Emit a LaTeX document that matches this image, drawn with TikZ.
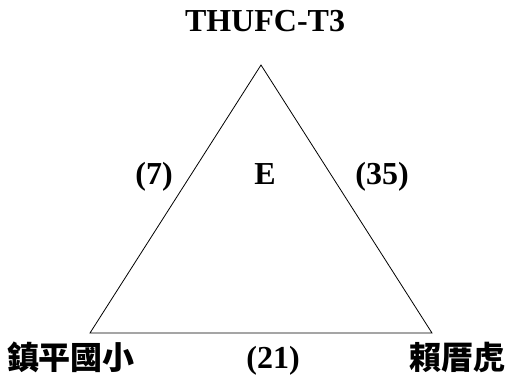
\documentclass[tikz,border=0pt]{standalone}
\usepackage{fontspec}
\setmainfont{Liberation Serif}
\newfontfamily\cjk{Noto Sans CJK TC}

\begin{document}
\begin{tikzpicture}[x = 1pt, y = -1pt, every node/.style = {font = \fontsize{32}{38}\selectfont\bfseries, inner sep = 0pt, anchor = base}]

	\useasboundingbox (0, 0) rectangle (512, 376);

	% Triangle

	\coordinate (apex) at (261, 65);
	\coordinate (school) at (90, 333);
	\coordinate (tiger) at (432, 333);
	\draw [line width = 0.8pt] (apex) -- (school) -- (tiger) -- cycle;

	% Corner labels

	\node (team) at (265, 31.5) {THUFC-T3};
	\node [font = \fontsize{32}{38}\selectfont\cjk\bfseries] (schoolname) at (71, 369) {鎮平國小};
	\node [font = \fontsize{32}{38}\selectfont\cjk\bfseries] (tigername) at (457, 369) {賴厝虎};

	% Side labels

	\node (leftside) at (154, 184) {(7)};
	\node (center) at (265, 184) {E};
	\node (rightside) at (382, 184) {(35)};
	\node (bottomside) at (273, 368) {(21)};

\end{tikzpicture}
\end{document}
